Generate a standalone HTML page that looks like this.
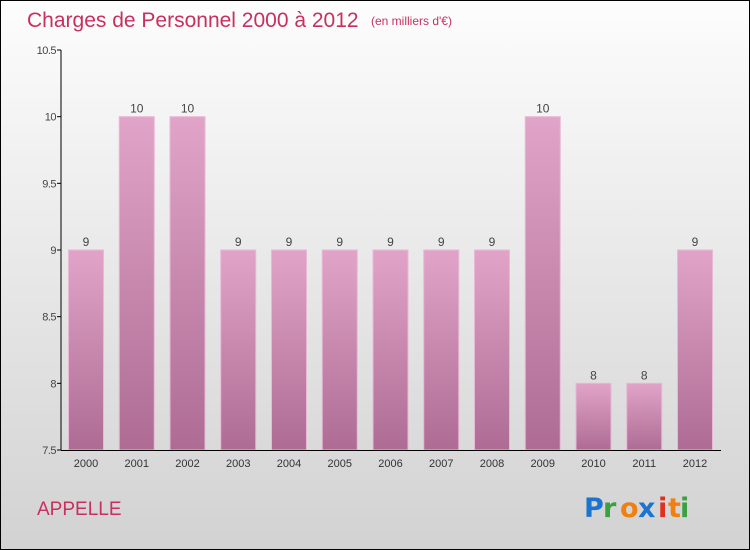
<!DOCTYPE html>
<html><head><meta charset="utf-8"><style>
body{margin:0}
#c{width:748px;height:548px;border:1px solid #000;background:linear-gradient(#fdfdfd,#d2d2d2);position:relative;overflow:hidden;font-family:"Liberation Sans",sans-serif}
</style></head><body>
<div id="c">
<svg width="748" height="548" id="s" style="position:absolute;left:0;top:0">
<defs><linearGradient id="g" x1="0" y1="0" x2="0" y2="1"><stop offset="0" stop-color="#e1a4c8"/><stop offset="1" stop-color="#ae6c94"/></linearGradient></defs>
<text x="26" y="26" font-size="21" fill="#c8305f">Charges de Personnel 2000 à 2012</text>
<text x="370" y="24" font-size="12" fill="#c8305f">(en milliers d'€)</text>
<text x="36" y="514" font-size="19" fill="#c8305f">APPELLE</text>
<g font-size="27" font-weight="bold" font-family="'DejaVu Sans',sans-serif">
<text x="583" y="516" fill="#1a74d0">P</text><text x="602" y="516" fill="#3aa040">r</text><text x="619" y="516" fill="#f08010">o</text><text x="637" y="516" fill="#1a74d0">x</text><text x="657" y="516" fill="#e03020">i</text><text x="667" y="516" fill="#f08010">t</text><text x="679" y="516" fill="#3aa040">i</text></g>
<g id="bars"></g><g id="axes"></g>
</svg></div>
<script>
const years=["2000","2001","2002","2003","2004","2005","2006","2007","2008","2009","2010","2011","2012"];
const values=[9,10,10,9,9,9,9,9,9,10,8,8,9];
const ticks=[7.5,8,8.5,9,9.5,10,10.5];
const NS="http://www.w3.org/2000/svg";
const y=v=>449-(v-7.5)/3*400;
const x=i=>85+i*50.75;
const bars=document.getElementById('bars'),axes=document.getElementById('axes');
function mk(p,t,a,txt){const e=document.createElementNS(NS,t);for(const k in a)e.setAttribute(k,a[k]);if(txt!==undefined)e.textContent=txt;p.appendChild(e);return e;}
values.forEach((v,i)=>{
 const r=mk(bars,'rect',{x:x(i)-17.5,y:y(v),width:35,height:y(7.5)-y(v),fill:'url(#g)',stroke:'#e8b8d4','stroke-width':1});
 
 
 const l=mk(bars,'text',{x:x(i),y:y(v)-4,'text-anchor':'middle','font-size':12,fill:'#444'},String(v));
 
 
 const t=mk(axes,'text',{x:x(i),y:466,'text-anchor':'middle','font-size':11,fill:'#333'},years[i]);
 
 
});
ticks.forEach(v=>{
 mk(axes,'line',{x1:56,x2:60,y1:y(v),y2:y(v),stroke:'#000'});
 const t=mk(axes,'text',{x:55,y:y(v)+4,'text-anchor':'end','font-size':11,fill:'#444','letter-spacing':'-0.5'},String(v));
 
 
});
const ya=mk(axes,'line',{x1:60,x2:60,y1:y(10.5),y2:y(7.5),stroke:'#000'});


const xa=mk(axes,'line',{x1:60,x2:720,y1:y(7.5)+0.5,y2:y(7.5)+0.5,stroke:'#000'});


</script>
</body></html>
